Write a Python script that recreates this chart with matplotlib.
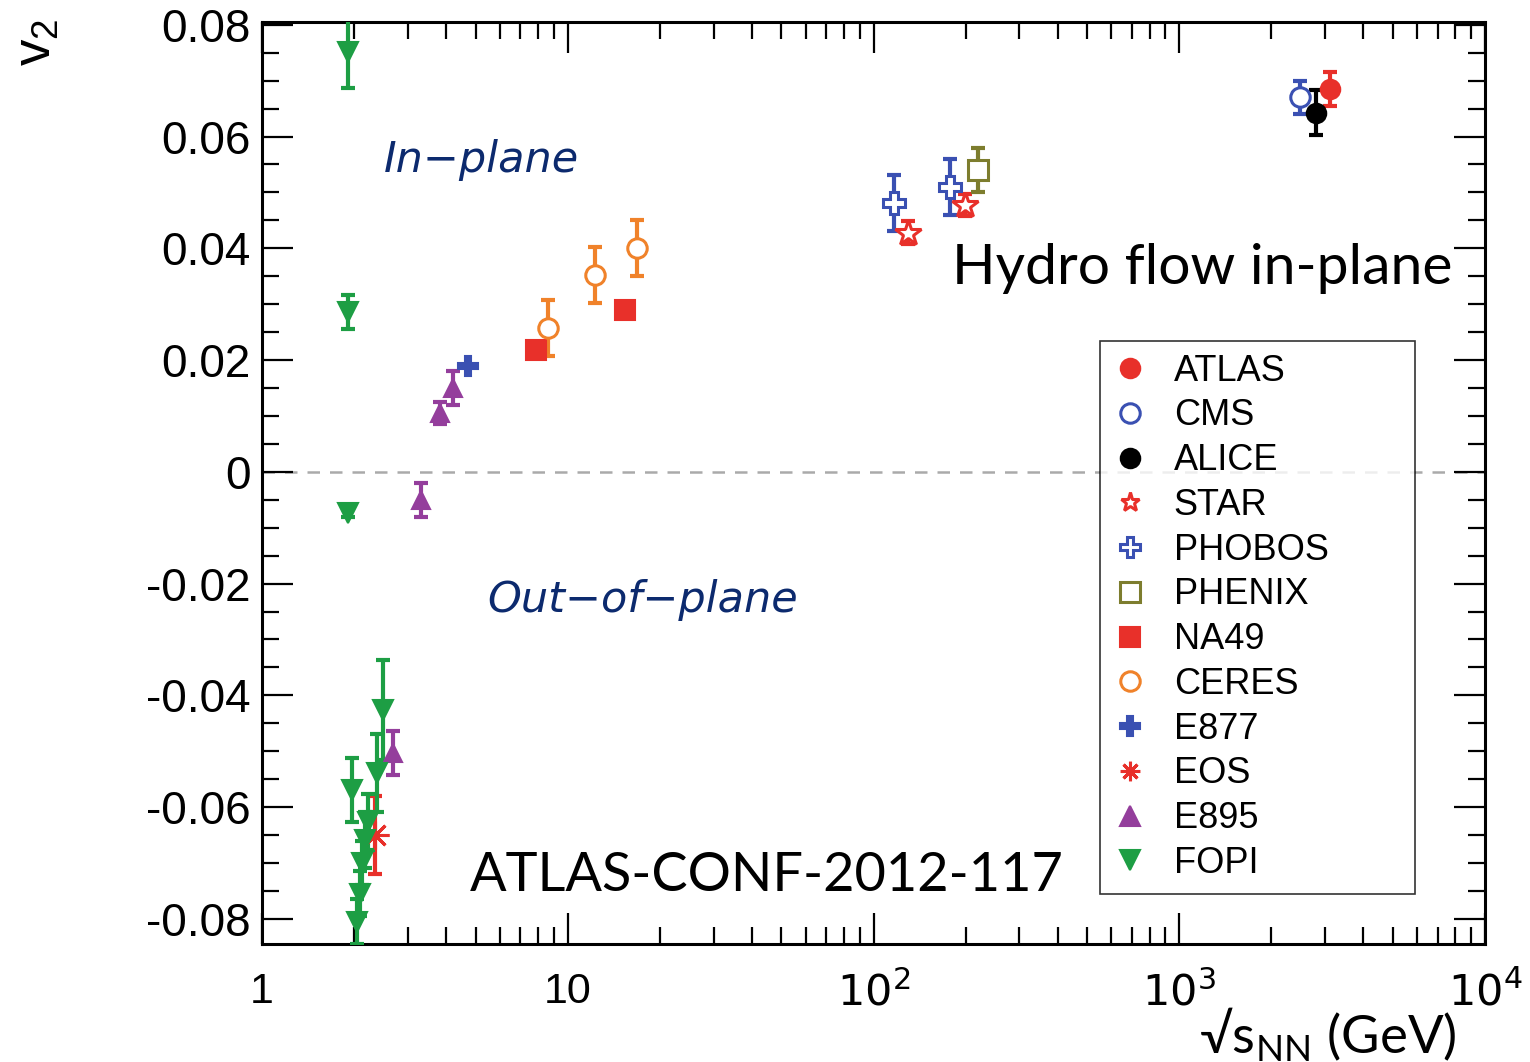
import numpy as np
import matplotlib.pyplot as plt
from matplotlib.ticker import FixedLocator, MultipleLocator, LogLocator, NullFormatter

# data: sqrt(s_NN) [GeV], v2, error
atlas_x, atlas_y, atlas_e = [3110], [0.0685], [0.003]
cms_x, cms_y, cms_e = [2480], [0.067], [0.003]
alice_x, alice_y, alice_e = [2800], [0.0643], [0.0040]
star_x, star_y, star_e = [130, 199], [0.0428, 0.0478], [0.002, 0.002]
phobos_x, phobos_y, phobos_e = [117, 178], [0.0481, 0.051], [0.005, 0.005]
phenix_x, phenix_y, phenix_e = [220], [0.054], [0.004]
na49_x, na49_y, na49_e = [7.9, 15.4], [0.0218, 0.029], [0.0, 0.0]
ceres_x, ceres_y, ceres_e = [8.6, 12.3, 16.8], [0.0258, 0.0353, 0.040], [0.005, 0.005, 0.005]
e877_x, e877_y, e877_e = [4.72], [0.019], [0.0]
eos_x, eos_y, eos_e = [2.34], [-0.065], [0.007]
e895_x = [2.69, 3.31, 3.82, 4.2]
e895_y = [-0.0503, -0.005, 0.0105, 0.015]
e895_e = [0.004, 0.003, 0.002, 0.003]
fopi_x = [1.91, 1.91, 1.91, 1.965, 2.046, 2.09, 2.13, 2.17, 2.22, 2.37, 2.49]
fopi_y = [0.0752, 0.0286, -0.0073, -0.0569, -0.0805, -0.0755, -0.070, -0.0659, -0.0626, -0.0539, -0.0426]
fopi_e = [0.0065, 0.003, 0.0008, 0.0057, 0.004, 0.004, 0.004, 0.005, 0.005, 0.007, 0.009]

red = '#e8302a'
blue = '#3a50b2'
olive = '#7d7d2e'
orange = '#f0822a'
purple = '#943e9c'
green = '#1d9e44'

fig = plt.figure(figsize=(15.3, 10.62), dpi=100)
ax = fig.add_axes([262/1530, 1-944/1062, 1223/1530, 922/1062])

# (x, y, err, label, marker, color, filled, size)
series = [
    (atlas_x, atlas_y, atlas_e, 'ATLAS', 'o', red, True, 14),
    (cms_x, cms_y, cms_e, 'CMS', 'o', blue, False, 14),
    (alice_x, alice_y, alice_e, 'ALICE', 'o', 'black', True, 14),
    (star_x, star_y, star_e, 'STAR', '*', red, False, 19),
    (phobos_x, phobos_y, phobos_e, 'PHOBOS', 'P', blue, False, 16),
    (phenix_x, phenix_y, phenix_e, 'PHENIX', 's', olive, False, 14),
    (na49_x, na49_y, na49_e, 'NA49', 's', red, True, 14),
    (ceres_x, ceres_y, ceres_e, 'CERES', 'o', orange, False, 14),
    (e877_x, e877_y, e877_e, 'E877', 'P', blue, True, 14),
    (eos_x, eos_y, eos_e, 'EOS', (8, 2, 0), red, True, 20),
    (e895_x, e895_y, e895_e, 'E895', '^', purple, True, 13),
    (fopi_x, fopi_y, fopi_e, 'FOPI', 'v', green, True, 14),
]

for xs, ys, es, lab, mk, col, filled, ms in series:
    ax.errorbar(xs, ys, yerr=es, fmt='none', ecolor=col, elinewidth=3,
                capsize=5, capthick=3, zorder=3)
    mew = 2.2 if not filled else 1.5
    if lab == 'EOS':
        mew = 2.2
    ax.plot(xs, ys, linestyle='none', marker=mk, markersize=ms,
            markerfacecolor=col if filled else 'white', markeredgecolor=col,
            markeredgewidth=mew, label=lab, zorder=4)

ax.axhline(0, color='#aaaaaa', linestyle=(0, (5, 4)), linewidth=1.8, zorder=1)

ax.set_xscale('log')
ax.set_xlim(1, 1e4)
ax.set_ylim(-0.0845, 0.0805)

ax.xaxis.set_major_locator(FixedLocator([1, 10, 100, 1000, 10000]))
ax.xaxis.set_minor_locator(LogLocator(base=10, subs=np.arange(2, 10)))
ax.xaxis.set_minor_formatter(NullFormatter())
ax.set_xticklabels(['1', '10', '$10^2$', '$10^3$', '$10^4$'])
ax.yaxis.set_minor_locator(MultipleLocator(0.005))
ax.set_yticks([-0.08, -0.06, -0.04, -0.02, 0, 0.02, 0.04, 0.06, 0.08])
ax.set_yticklabels(['-0.08', '-0.06', '-0.04', '-0.02', '0', '0.02', '0.04', '0.06', '0.08'])

ax.tick_params(which='both', direction='in', top=True, right=True, width=1.6)
ax.tick_params(which='major', length=22)
ax.tick_params(which='minor', length=12)
ax.tick_params(axis='y', labelsize=33, pad=8)
ax.tick_params(axis='x', labelsize=31, pad=20)
for lbl in ax.get_xticklabels() + ax.get_yticklabels():
    lbl.set_family('Liberation Sans')
for s in ax.spines.values():
    s.set_linewidth(2.2)

leg = ax.legend(loc='upper left', bbox_to_anchor=(0.685, 0.654, 0.258, 0.0), mode='expand',
                prop={'family': 'Liberation Sans', 'size': 26},
                frameon=True, fancybox=False, edgecolor='black', handlelength=1.0,
                handletextpad=0.7, labelspacing=0.27, borderpad=0.35, borderaxespad=0,
                numpoints=1)
leg.get_frame().set_linewidth(1.2)
for h in leg.legend_handles:
    h.set_markersize(14)

ax.text(0.10, 0.837, 'In\u2212plane', transform=ax.transAxes, fontsize=31,
        style='italic', color='#0c2a6e', family='DejaVu Sans')
ax.text(0.184, 0.36, 'Out\u2212of\u2212plane', transform=ax.transAxes, fontsize=31,
        style='italic', color='#0c2a6e', family='DejaVu Sans')
ax.text(0.564, 0.716, 'Hydro flow in-plane', transform=ax.transAxes, fontsize=41,
        family='Lato', color='black')
ax.text(0.17, 0.058, 'ATLAS-CONF-2012-117', transform=ax.transAxes, fontsize=39,
        family='Lato', color='black')

fig.text(36/1530, 1-42/1062, 'v$_\\mathregular{2}$', rotation=90, fontsize=38,
         family='Liberation Sans', ha='center', va='center')
fig.text(1328/1530, 1-1035/1062, '\u221as$_{\\mathregular{NN}}$ (GeV)', fontsize=38,
         family='Lato', ha='center', va='center')

fig.savefig('out.png', dpi=100)
